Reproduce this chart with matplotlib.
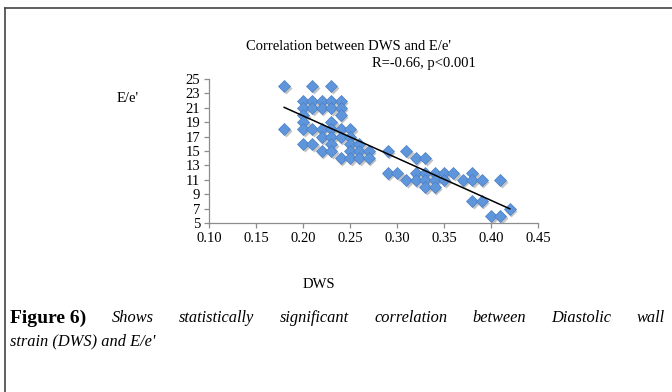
import matplotlib
matplotlib.use("Agg")
import matplotlib.pyplot as plt
import matplotlib.transforms as mtransforms
import numpy as np

# ---- data ----
dws = [0.18, 0.21, 0.23,
       0.20, 0.21, 0.22, 0.23, 0.24,
       0.20, 0.21, 0.22, 0.23, 0.24,
       0.20, 0.24,
       0.20, 0.23,
       0.18, 0.20, 0.21, 0.22, 0.23, 0.24, 0.25,
       0.22, 0.23, 0.24, 0.25,
       0.20, 0.21, 0.23, 0.25, 0.26,
       0.22, 0.23, 0.25, 0.26, 0.27, 0.29, 0.31,
       0.24, 0.25, 0.26, 0.27, 0.32, 0.33,
       0.29, 0.30, 0.32, 0.33, 0.34, 0.35, 0.36, 0.38,
       0.31, 0.32, 0.33, 0.34, 0.35, 0.37, 0.38, 0.39, 0.41,
       0.33, 0.34,
       0.38, 0.39,
       0.42,
       0.40, 0.41]
ee = [24, 24, 24,
      22, 22, 22, 22, 22,
      21, 21, 21, 21, 21,
      20, 20,
      19, 19,
      18, 18, 18, 18, 18, 18, 18,
      17, 17, 17, 17,
      16, 16, 16, 16, 16,
      15, 15, 15, 15, 15, 15, 15,
      14, 14, 14, 14, 14, 14,
      12, 12, 12, 12, 12, 12, 12, 12,
      11, 11, 11, 11, 11, 11, 11, 11, 11,
      10, 10,
      8, 8,
      7,
      6, 6]
x_ticks = [0.10, 0.15, 0.20, 0.25, 0.30, 0.35, 0.40, 0.45]
y_ticks = [5, 7, 9, 11, 13, 15, 17, 19, 21, 23, 25]
title = "Correlation between DWS and E/e'"
stat_text = "R=-0.66, p<0.001"
caption_lead = "Figure 6)"
caption_line1 = "Shows statistically significant correlation between Diastolic wall"
caption_line2 = "strain (DWS) and E/e'"

serif = ["Liberation Serif", "DejaVu Serif"]

fig = plt.figure(figsize=(6.72, 3.92), dpi=100)
W, H = 672, 392
ax = fig.add_axes([209 / W, 1 - 223 / H, (538 - 209) / W, (223 - 79) / H])

x = np.array(dws)
y = np.array(ee)

# drop shadow + markers
shadow = mtransforms.offset_copy(ax.transData, fig=fig, x=1.2, y=-1.5, units="points")
ax.plot(x, y, "D", ms=6.3, color="#7a7a7a", alpha=0.45, mec="none", transform=shadow, zorder=2)
ax.plot(x, y, "D", ms=6.3, color="#5f95da", mec="#4a7fc4", mew=0.5, zorder=3)

# linear trend line
k, b = np.polyfit(x, y, 1)
xl = np.array([x.min(), x.max()])
ax.plot(xl, k * xl + b, color="black", lw=1.1, zorder=4)

ax.set_xlim(0.10, 0.45)
ax.set_ylim(5, 25)
ax.set_xticks(x_ticks)
ax.set_xticklabels([f"{v:.2f}" for v in x_ticks])
ax.set_yticks(y_ticks)
ax.set_yticklabels([str(v) for v in y_ticks])
for s in ["top", "right"]:
    ax.spines[s].set_visible(False)
for s in ["left", "bottom"]:
    ax.spines[s].set_color("#8c8c8c")
    ax.spines[s].set_linewidth(0.9)
ax.tick_params(axis="both", direction="out", length=3.5, color="#8c8c8c", width=0.9,
               labelsize=10.5, pad=3)
for lab in ax.get_xticklabels() + ax.get_yticklabels():
    lab.set_family(serif)

fig.text(246 / W, 1 - 47 / H, title, ha="left", va="center", fontsize=10.5, family=serif)
fig.text(476 / W, 1 - 64 / H, stat_text, ha="right", va="center", fontsize=10.5, family=serif)
fig.text(128 / W, 1 - 98 / H, "E/e'", ha="center", va="center", fontsize=10.5, family=serif)
fig.text(319 / W, 1 - 285 / H, "DWS", ha="center", va="center", fontsize=10.5, family=serif)

# frame lines
fig.add_artist(plt.Line2D([5 / W, 5 / W], [0, 1 - 8 / H], color="#444444", lw=1.2))
fig.add_artist(plt.Line2D([5 / W, 1], [1 - 8 / H, 1 - 8 / H], color="#444444", lw=1.2))

# justified caption line 1
fig.canvas.draw()
renderer = fig.canvas.get_renderer()
left_px, right_px = 10, 665
y1 = 1 - 318 / H
texts = [fig.text(0, y1, caption_lead, ha="left", va="center", fontsize=14,
                  family=serif, weight="bold")]
for w in caption_line1.split():
    texts.append(fig.text(0, y1, w, ha="left", va="center", fontsize=11.8,
                          family=serif, style="italic"))
fig.canvas.draw()
widths = [t.get_window_extent(renderer).width for t in texts]
gap = (right_px - left_px - sum(widths)) / (len(widths) - 1)
pos = left_px
for t, wd in zip(texts, widths):
    t.set_x(pos / W)
    pos += wd + gap

fig.text(left_px / W, 1 - 341 / H, caption_line2, ha="left", va="center", fontsize=11.8,
         family=serif, style="italic")

fig.savefig("out.png", dpi=100)
